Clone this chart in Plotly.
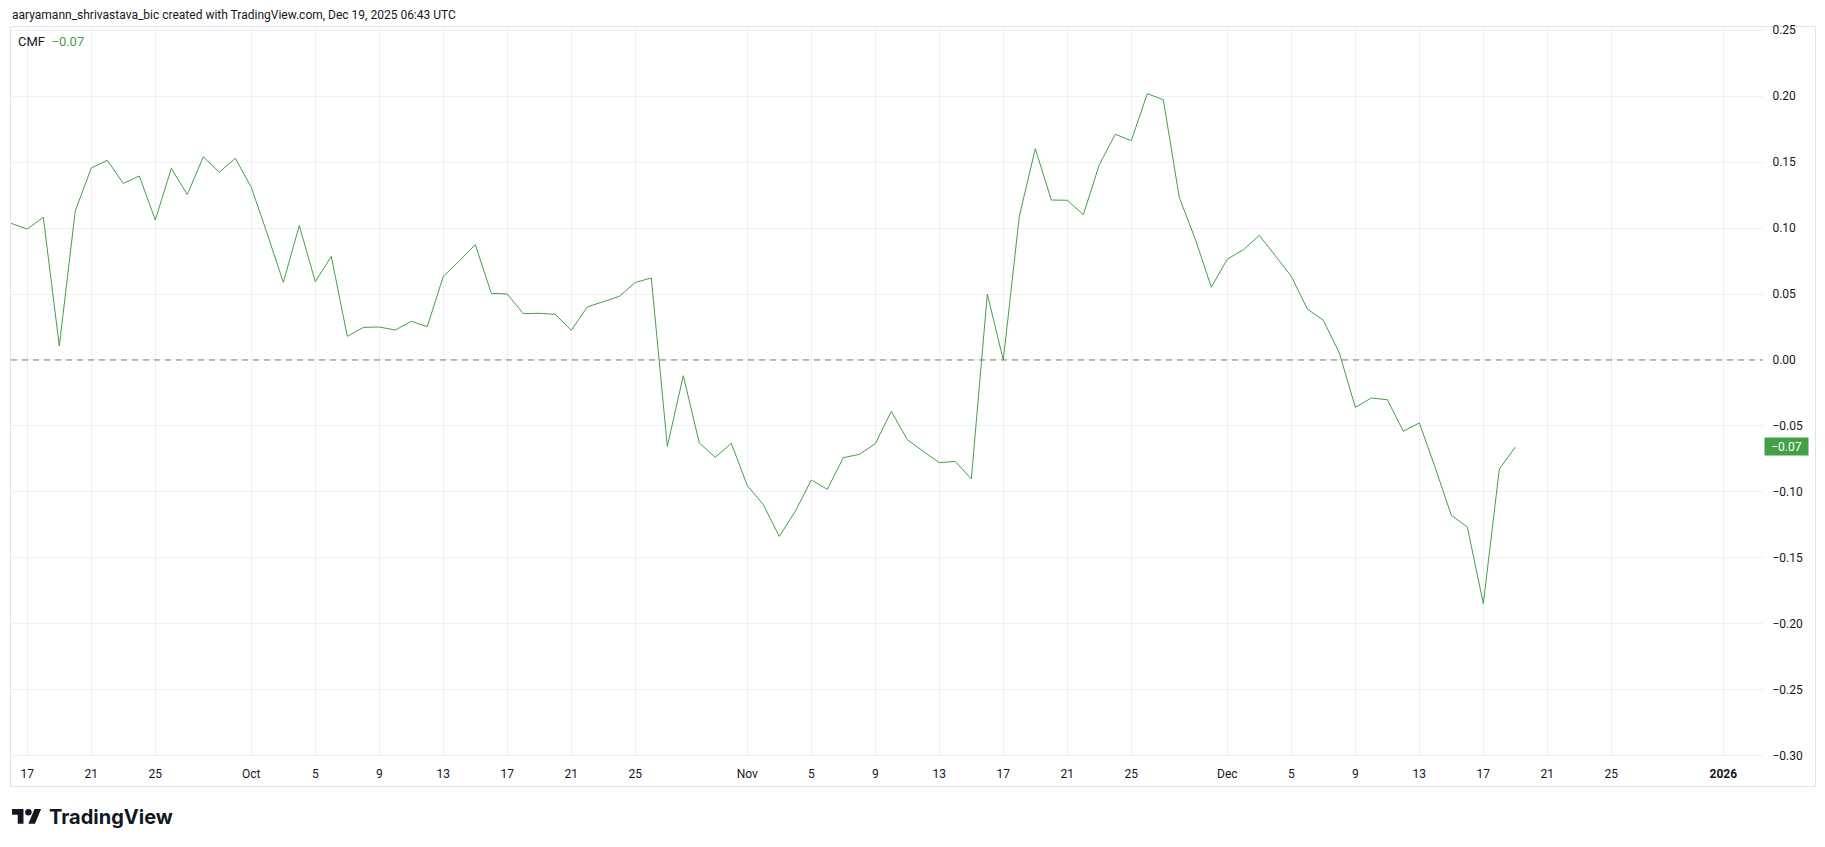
import pandas as pd
import plotly.graph_objects as go

# ---------------- data ----------------
start_date = "2025-09-16"
end_date = "2025-12-19"
cmf_values = [
    # Sep 16-30
    0.1035, 0.0992, 0.1081, 0.0106, 0.1131, 0.1455, 0.1513, 0.1338, 0.1394, 0.1061,
    0.1452, 0.1253, 0.1540, 0.1422, 0.1528,
    # Oct 1-31
    0.1308, 0.0955, 0.0588, 0.1018, 0.0593, 0.0785, 0.0179, 0.0247, 0.0250, 0.0227,
    0.0293, 0.0253, 0.0634, 0.0750, 0.0874, 0.0505, 0.0500, 0.0351, 0.0354, 0.0346,
    0.0225, 0.0402, 0.0439, 0.0482, 0.0588, 0.0621, -0.0654, -0.0119, -0.0629, -0.0737,
    -0.0631,
    # Nov 1-30
    -0.0952, -0.1096, -0.1337, -0.1146, -0.0909, -0.0980, -0.0740, -0.0715, -0.0634, -0.0389,
    -0.0604, -0.0692, -0.0778, -0.0768, -0.0902, 0.0499, 0.0000, 0.1090, 0.1601, 0.1212,
    0.1210, 0.1101, 0.1480, 0.1710, 0.1662, 0.2018, 0.1972, 0.1230, 0.0915, 0.0552,
    # Dec 1-19
    0.0764, 0.0835, 0.0944, 0.0790, 0.0634, 0.0386, 0.0301, 0.0053, -0.0359, -0.0288,
    -0.0301, -0.0540, -0.0477, -0.0818, -0.1177, -0.1265, -0.1846, -0.0826, -0.0659,
]
dates = pd.date_range(start_date, end_date, freq="D")
assert len(dates) == len(cmf_values)

x_tick_dates = [
    "2025-09-17", "2025-09-21", "2025-09-25", "2025-10-01", "2025-10-05", "2025-10-09",
    "2025-10-13", "2025-10-17", "2025-10-21", "2025-10-25", "2025-11-01", "2025-11-05",
    "2025-11-09", "2025-11-13", "2025-11-17", "2025-11-21", "2025-11-25", "2025-12-01",
    "2025-12-05", "2025-12-09", "2025-12-13", "2025-12-17", "2025-12-21", "2025-12-25",
    "2026-01-01",
]
x_tick_labels = [
    "17", "21", "25", "Oct", "5", "9", "13", "17", "21", "25", "Nov", "5", "9", "13",
    "17", "21", "25", "Dec", "5", "9", "13", "17", "21", "25", "<b>2026</b>",
]
y_tick_values = [-0.30, -0.25, -0.20, -0.15, -0.10, -0.05, 0.00, 0.05, 0.10, 0.15, 0.20, 0.25]
hline_level = 0.0
last_value = cmf_values[-1]
legend_name = "CMF"
header_text = "aaryamann_shrivastava_bic created with TradingView.com, Dec 19, 2025 06:43 UTC"

# ---------------- styling ----------------
W, H = 1825, 847
L, R, T, B = 11, 1763, 27, 757
GREEN = "#43a047"
TXT = "#131722"
GRID = "#eff0f3"
FONT = "Roboto"


def px(xpix):
    return (xpix - L) / (R - L)


def py(ypix):
    return (B - ypix) / (B - T)


fig = go.Figure()
fig.add_trace(go.Scatter(
    x=dates, y=cmf_values, mode="lines",
    line=dict(color=GREEN, width=1), hoverinfo="skip", showlegend=False,
))

shapes = []
# zero dashed line
shapes.append(dict(type="line", xref="paper", yref="y", x0=0, x1=1,
                   y0=hline_level, y1=hline_level,
                   line=dict(color="#787b86", width=1, dash="6px,5px"), layer="above"))
# pane border
shapes.append(dict(type="rect", xref="paper", yref="paper",
                   x0=px(10.5), x1=px(1815.5), y0=py(786.5), y1=py(26.5),
                   line=dict(color="#e0e3eb", width=1), fillcolor="rgba(0,0,0,0)", layer="below"))

# TradingView logo icon (decorative)
s = 0.82
ox, oy = 12, 809 - 4 * s


def P(a, b):
    return f"{px(ox + a * s):.6f},{py(oy + b * s):.6f}"


path1 = "M" + " L".join(P(a, b) for a, b in [(14, 22), (7, 22), (7, 11), (0, 11), (0, 4), (14, 4)]) + " Z"
path2 = "M" + " L".join(P(a, b) for a, b in [(28, 22), (20, 22), (27.5, 4), (35.5, 4)]) + " Z"
shapes.append(dict(type="path", xref="paper", yref="paper", path=path1,
                   fillcolor=TXT, line=dict(width=0)))
shapes.append(dict(type="path", xref="paper", yref="paper", path=path2,
                   fillcolor=TXT, line=dict(width=0)))
shapes.append(dict(type="circle", xref="paper", yref="paper",
                   x0=px(ox + 16 * s), x1=px(ox + 24 * s), y0=py(oy + 12 * s), y1=py(oy + 4 * s),
                   fillcolor=TXT, line=dict(width=0)))

annotations = [
    dict(text=header_text, xref="paper", yref="paper", x=px(10), y=py(15),
         xanchor="left", yanchor="middle", showarrow=False,
         font=dict(family=FONT, size=12, color=TXT)),
    dict(text=f"{legend_name}&nbsp;&nbsp;<span style='color:{GREEN}'>{last_value:.2f}</span>".replace("-", "\u2212"),
         xref="paper", yref="paper", x=px(16), y=py(42),
         xanchor="left", yanchor="middle", showarrow=False,
         font=dict(family=FONT, size=13, color=TXT)),
    dict(text="<b>TradingView</b>", xref="paper", yref="paper", x=px(47), y=py(817),
         xanchor="left", yanchor="middle", showarrow=False,
         font=dict(family="Inter", size=20, color=TXT)),
    dict(text=f"{last_value:.2f}".replace("-", "\u2212"), xref="paper", yref="y",
         x=1, y=last_value, xanchor="left", yanchor="middle", xshift=1,
         showarrow=False, bgcolor=GREEN, width=41, height=15, align="center",
         font=dict(family=FONT, size=12, color="white")),
]

fig.update_layout(
    width=W, height=H,
    margin=dict(l=L, r=W - R, t=T, b=H - B, pad=0),
    paper_bgcolor="white", plot_bgcolor="white",
    shapes=shapes, annotations=annotations,
    showlegend=False,
    font=dict(family=FONT, size=12, color=TXT),
    xaxis=dict(
        type="date", range=["2025-09-15 23:33", "2026-01-03 11:30"],
        tickvals=x_tick_dates, ticktext=x_tick_labels,
        showgrid=True, gridcolor=GRID, gridwidth=1,
        ticks="outside", ticklen=6, tickcolor="rgba(0,0,0,0)",
        showline=False, zeroline=False,
        tickfont=dict(family=FONT, size=12, color=TXT),
    ),
    yaxis=dict(
        side="right", range=[-0.3008, 0.2523],
        tickvals=y_tick_values, tickformat=".2f",
        showgrid=True, gridcolor=GRID, gridwidth=1,
        ticks="outside", ticklen=6, tickcolor="rgba(0,0,0,0)",
        showline=False, zeroline=False,
        tickfont=dict(family=FONT, size=12, color=TXT),
    ),
)

fig.write_html("out.html", config={"displayModeBar": False},
               post_script="document.body.style.margin='0px';")
